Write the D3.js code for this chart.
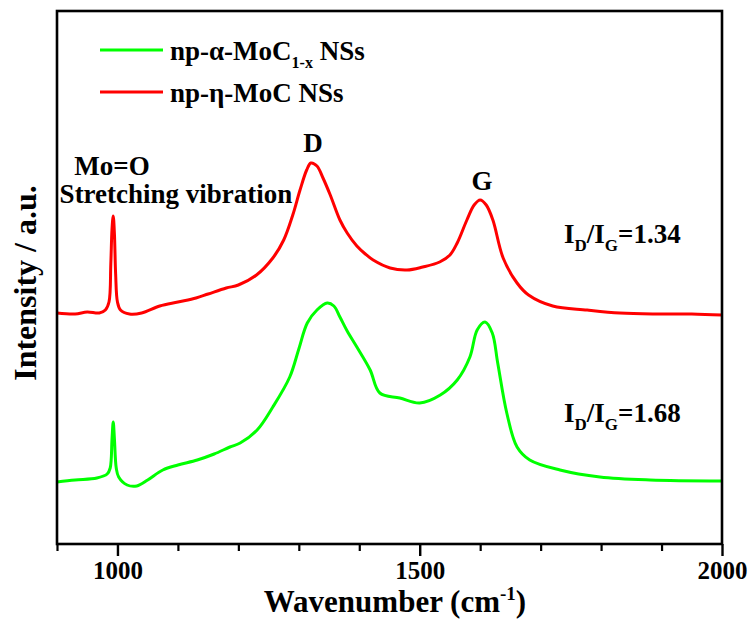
<!DOCTYPE html>
<html>
<head>
<meta charset="utf-8">
<script src="https://cdn.jsdelivr.net/npm/d3@7"></script>
<style>
  html, body { margin: 0; padding: 0; background: #fff; }
  svg { display: block; }
  text { font-family: "Liberation Serif", "Times New Roman", serif; font-weight: bold; fill: #000; }
</style>
</head>
<body>
<svg id="chart" width="750" height="619"></svg>
<script>
// ---- Data ----
const redWavenumber = [900, 930, 950, 970, 980, 986, 989, 991, 993, 995, 997, 1000, 1005, 1020, 1040, 1070, 1100, 1130, 1150, 1180, 1200, 1230, 1257, 1275, 1290, 1302, 1313, 1320, 1330, 1340, 1352, 1368, 1380, 1396, 1410, 1423, 1451, 1479, 1505, 1533, 1550, 1562, 1578, 1590, 1600, 1610, 1621, 1638, 1661, 1680, 1720, 1777, 1831, 1886, 1950, 2000];
const redIntensity  = [2310, 2300, 2320, 2310, 2340, 2420, 2800, 3150, 3280, 3100, 2700, 2420, 2340, 2300, 2310, 2380, 2420, 2460, 2500, 2560, 2590, 2690, 2860, 3040, 3290, 3540, 3740, 3810, 3780, 3660, 3490, 3240, 3110, 2980, 2900, 2840, 2760, 2740, 2770, 2820, 2890, 3010, 3240, 3390, 3440, 3390, 3240, 2860, 2610, 2490, 2380, 2340, 2310, 2300, 2300, 2290];

const greenWavenumber = [900, 930, 966, 983, 988, 991, 993, 995, 998, 1002, 1016, 1032, 1050, 1075, 1100, 1132, 1160, 1186, 1203, 1231, 1257, 1285, 1300, 1314, 1330, 1347, 1358, 1368, 1380, 1396, 1418, 1434, 1467, 1500, 1534, 1562, 1583, 1595, 1608, 1620, 1629, 1644, 1661, 1682, 1732, 1798, 1881, 2000];
const greenIntensity  = [620, 640, 660, 700, 760, 1050, 1220, 1050, 760, 670, 590, 580, 640, 740, 790, 840, 900, 970, 1010, 1140, 1370, 1670, 1950, 2210, 2340, 2410, 2380, 2270, 2130, 1970, 1740, 1510, 1460, 1410, 1490, 1640, 1870, 2140, 2220, 2110, 1810, 1310, 970, 840, 740, 670, 640, 630];

const majorTicks = [1000, 1500, 2000];
const minorTicks = [900, 1100, 1200, 1300, 1400, 1600, 1700, 1800, 1900];

const seriesNames = ["np-α-MoC", "np-η-MoC NSs"];
const seriesColors = ["#00ff00", "#ff0000"];

// ---- Layout ----
const svg = d3.select("#chart");
const plot = { left: 57, right: 722, top: 11, bottom: 544 };

const x = d3.scaleLinear().domain([900, 2000]).range([plot.left, plot.right]);
const y = d3.scaleLinear().domain([0, 5330]).range([plot.bottom, plot.top]);

// Spectra
const line = d3.line().x(d => x(d[0])).y(d => y(d[1])).curve(d3.curveCatmullRom.alpha(0.5));
const greenData = d3.zip(greenWavenumber, greenIntensity);
const redData = d3.zip(redWavenumber, redIntensity);

svg.append("path").datum(greenData).attr("d", line)
  .attr("fill", "none").attr("stroke", seriesColors[0]).attr("stroke-width", 3).attr("stroke-linejoin", "round");
svg.append("path").datum(redData).attr("d", line)
  .attr("fill", "none").attr("stroke", seriesColors[1]).attr("stroke-width", 3).attr("stroke-linejoin", "round");

// Axis ticks
const axisMajor = d3.axisBottom(x).tickValues(majorTicks).tickSize(12).tickPadding(5).tickFormat(d3.format("d"));
const gMaj = svg.append("g").attr("transform", `translate(0,${plot.bottom})`).call(axisMajor);
gMaj.select(".domain").remove();
gMaj.selectAll("line").attr("stroke", "#000").attr("stroke-width", 2.4);
gMaj.selectAll("text").attr("font-size", 25).attr("fill", "#000");

const axisMinor = d3.axisBottom(x).tickValues(minorTicks).tickSize(7).tickFormat("");
const gMin = svg.append("g").attr("transform", `translate(0,${plot.bottom})`).call(axisMinor);
gMin.select(".domain").remove();
gMin.selectAll("line").attr("stroke", "#000").attr("stroke-width", 2.2);

// Frame
svg.append("rect")
  .attr("x", plot.left).attr("y", plot.top)
  .attr("width", plot.right - plot.left).attr("height", plot.bottom - plot.top)
  .attr("fill", "none").attr("stroke", "#000").attr("stroke-width", 2.6);

// Axis titles
const xt = svg.append("text").attr("x", 395).attr("y", 612).attr("text-anchor", "middle").attr("font-size", 31);
xt.append("tspan").text("Wavenumber (cm");
xt.append("tspan").attr("dy", -12).attr("font-size", 19).text("-1");
xt.append("tspan").attr("dy", 12).text(")");

svg.append("text")
  .attr("transform", "translate(36,283) rotate(-90)")
  .attr("text-anchor", "middle").attr("font-size", 32)
  .text("Intensity / a.u.");

// Legend
const lg = svg.append("g");
lg.append("line").attr("x1", 100).attr("x2", 163).attr("y1", 50).attr("y2", 50)
  .attr("stroke", seriesColors[0]).attr("stroke-width", 3);
lg.append("line").attr("x1", 100).attr("x2", 163).attr("y1", 92).attr("y2", 92)
  .attr("stroke", seriesColors[1]).attr("stroke-width", 3);
const l1 = lg.append("text").attr("x", 170).attr("y", 60).attr("font-size", 27);
l1.append("tspan").text(seriesNames[0]);
l1.append("tspan").attr("dy", 8).attr("font-size", 16).text("1-x");
l1.append("tspan").attr("dy", -8).text(" NSs");
lg.append("text").attr("x", 170).attr("y", 102).attr("font-size", 27).text(seriesNames[1]);

// Annotations
svg.append("text").attr("x", 313).attr("y", 152).attr("text-anchor", "middle").attr("font-size", 27).text("D");
svg.append("text").attr("x", 482).attr("y", 190).attr("text-anchor", "middle").attr("font-size", 27).text("G");
svg.append("text").attr("x", 112).attr("y", 175).attr("text-anchor", "middle").attr("font-size", 27).text("Mo=O");
svg.append("text").attr("x", 176).attr("y", 203).attr("text-anchor", "middle").attr("font-size", 27).text("Stretching vibration");

function ratioLabel(xp, yp, value) {
  const t = svg.append("text").attr("x", xp).attr("y", yp).attr("font-size", 27);
  t.append("tspan").text("I");
  t.append("tspan").attr("dy", 8).attr("font-size", 17).text("D");
  t.append("tspan").attr("dy", -8).text("/I");
  t.append("tspan").attr("dy", 8).attr("font-size", 17).text("G");
  t.append("tspan").attr("dy", -8).text("=" + value);
}
ratioLabel(564, 243, "1.34");
ratioLabel(564, 422, "1.68");
</script>
</body>
</html>
